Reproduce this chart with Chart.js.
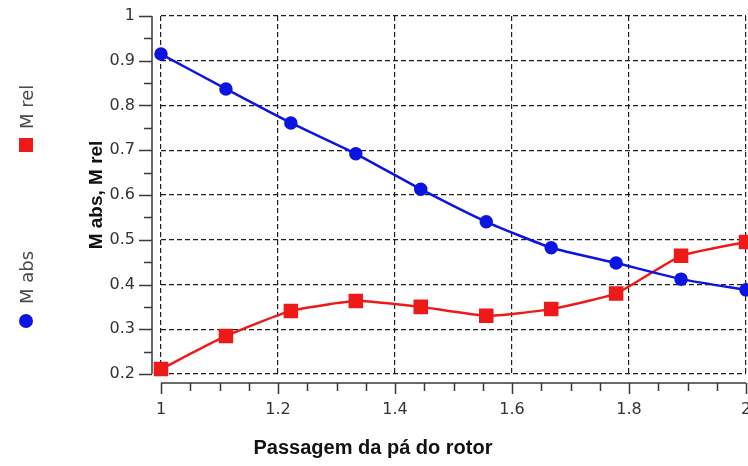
<!DOCTYPE html>
<html>
<head>
<meta charset="utf-8">
<script src="https://cdn.jsdelivr.net/npm/chart.js@4/dist/chart.umd.min.js"></script>
<style>
  html, body { margin: 0; padding: 0; background: #ffffff; }
  #wrap { width: 748px; height: 466px; position: relative; }
</style>
</head>
<body>
<div id="wrap"><canvas id="c" width="748" height="466"></canvas></div>
<script>
// Positions along the rotor blade passage
const passage = [1, 1.111, 1.222, 1.333, 1.444, 1.556, 1.667, 1.778, 1.889, 2];
// Absolute and relative Mach numbers
const mAbs = [0.915, 0.837, 0.761, 0.692, 0.613, 0.54, 0.482, 0.448, 0.412, 0.388];
const mRel = [0.211, 0.285, 0.341, 0.363, 0.35, 0.33, 0.345, 0.38, 0.464, 0.495];
// Axis ranges and tick steps
const xRange = [1, 2];
const xStep = 0.2;
const yRange = [0.2, 1];
const yStep = 0.1;
const seriesNames = ['M abs', 'M rel'];
const xTitle = 'Passagem da pá do rotor';
const yTitle = 'M abs, M rel';

const toPoints = (xs, ys) => xs.map((v, i) => ({ x: v, y: ys[i] }));
const fmt = v => String(parseFloat(Number(v).toFixed(2)));
const noPadding = () => ({ left: 0, top: 0, right: 0, bottom: 0 });

// Axis lines drawn slightly apart from the plot area, with major and minor ticks
const axisDecor = {
  id: 'axisDecor',
  afterDraw(chart) {
    const { ctx, chartArea, scales } = chart;
    const xs = scales.x, ys = scales.y;
    const ax = chartArea.left - 9;
    const ay = chartArea.bottom + 9;
    ctx.save();
    ctx.strokeStyle = '#3a3a3a';
    ctx.lineWidth = 1.5;
    ctx.beginPath();
    ctx.moveTo(ax, ys.getPixelForValue(ys.max));
    ctx.lineTo(ax, ys.getPixelForValue(ys.min));
    ctx.moveTo(xs.getPixelForValue(xs.min), ay);
    ctx.lineTo(xs.getPixelForValue(xs.max), ay);
    // y ticks
    for (let v = ys.min; v <= ys.max + 1e-9; v += yStep / 2) {
      const py = Math.round(ys.getPixelForValue(v)) + 0.5;
      const major = Math.abs(Math.round(v / yStep) * yStep - v) < 1e-6;
      ctx.moveTo(ax, py);
      ctx.lineTo(ax - (major ? 13 : 8), py);
    }
    // x ticks
    for (let v = xs.min; v <= xs.max + 1e-9; v += xStep / 4) {
      const px = Math.round(xs.getPixelForValue(v)) + 0.5;
      const major = Math.abs(Math.round(v / xStep) * xStep - v) < 1e-6;
      ctx.moveTo(px, ay);
      ctx.lineTo(px, ay + (major ? 11 : 8));
    }
    ctx.stroke();
    ctx.restore();
  }
};

// Vertical legend in the left margin
const sideLegend = {
  id: 'sideLegend',
  afterDraw(chart) {
    const { ctx } = chart;
    const slots = [
      { ds: 1, markY: 145, textY: 129 },
      { ds: 0, markY: 321, textY: 304 }
    ];
    ctx.save();
    slots.forEach(s => {
      const ds = chart.data.datasets[s.ds];
      ctx.fillStyle = ds.pointBackgroundColor;
      if (ds.pointStyle === 'rect') {
        ctx.fillRect(19, s.markY - 7, 14, 14);
      } else {
        ctx.beginPath();
        ctx.arc(26, s.markY, 7, 0, Math.PI * 2);
        ctx.fill();
      }
      ctx.save();
      ctx.translate(33, s.textY);
      ctx.rotate(-Math.PI / 2);
      ctx.font = '18px "DejaVu Sans"';
      ctx.fillStyle = '#4a4a4a';
      ctx.textAlign = 'left';
      ctx.textBaseline = 'alphabetic';
      ctx.fillText(ds.label, 0, 0);
      ctx.restore();
    });
    ctx.restore();
  }
};

const gridStyle = {
  color: '#1e1e1e',
  lineWidth: 1.2,
  drawTicks: false
};
const borderStyle = { display: false, dash: [5, 3] };

new Chart(document.getElementById('c'), {
  type: 'line',
  data: {
    datasets: [
      {
        label: seriesNames[0],
        data: toPoints(passage, mAbs),
        borderColor: '#0b14e0',
        backgroundColor: '#0b14e0',
        pointBackgroundColor: '#0b14e0',
        pointBorderColor: '#0b14e0',
        pointStyle: 'circle',
        pointRadius: 5.5,
        borderWidth: 2.5,
        tension: 0.15,
        clip: false
      },
      {
        label: seriesNames[1],
        data: toPoints(passage, mRel),
        borderColor: '#ee1a1a',
        backgroundColor: '#ee1a1a',
        pointBackgroundColor: '#ee1a1a',
        pointBorderColor: '#ee1a1a',
        pointStyle: 'rect',
        pointRadius: 8.5,
        borderWidth: 2.5,
        tension: 0.15,
        clip: false
      }
    ]
  },
  options: {
    responsive: false,
    animation: false,
    devicePixelRatio: 1,
    layout: { autoPadding: false, padding: { left: 0, right: 2, top: 16, bottom: 0 } },
    plugins: {
      legend: { display: false },
      tooltip: { enabled: false },
      title: {
        display: true,
        position: 'bottom',
        text: xTitle,
        color: '#111111',
        font: { family: '"Liberation Sans", Arial, sans-serif', size: 20, weight: 'bold' },
        padding: { top: 0, bottom: 6 }
      }
    },
    scales: {
      x: {
        type: 'linear',
        min: xRange[0],
        max: xRange[1],
        border: { ...borderStyle },
        grid: { ...gridStyle },
        ticks: {
          stepSize: xStep,
          padding: 26,
          color: '#333333',
          font: { family: '"DejaVu Sans"', size: 16 },
          maxRotation: 0,
          callback: fmt
        },
        afterFit(scale) {
          scale.height = 62;
          scale.paddingLeft = 0;
          scale.paddingRight = 0;
          scale.getPadding = noPadding;
        }
      },
      y: {
        type: 'linear',
        min: yRange[0],
        max: yRange[1],
        border: { ...borderStyle },
        grid: { ...gridStyle },
        ticks: {
          stepSize: yStep,
          padding: 26,
          color: '#333333',
          font: { family: '"DejaVu Sans"', size: 16 },
          callback: fmt
        },
        title: {
          display: true,
          text: yTitle,
          color: '#111111',
          font: { family: '"Liberation Sans", Arial, sans-serif', size: 19, weight: 'bold' },
          padding: { top: 85, bottom: 0 }
        },
        afterFit(scale) {
          scale.width = 161;
          scale.paddingTop = 0;
          scale.paddingBottom = 0;
          scale.getPadding = noPadding;
        }
      }
    }
  },
  plugins: [axisDecor, sideLegend]
});
</script>
</body>
</html>
